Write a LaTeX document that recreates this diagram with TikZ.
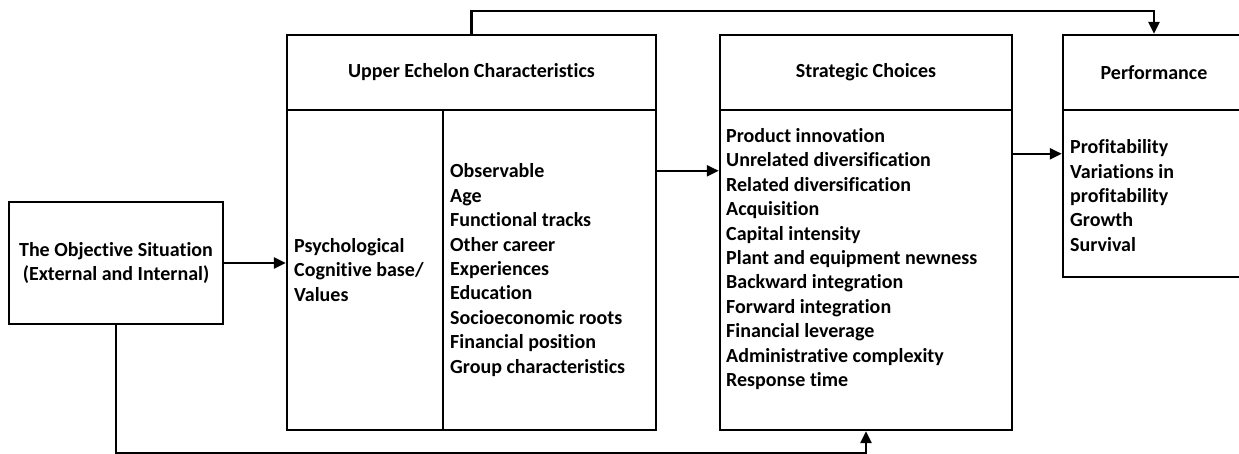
\documentclass[tikz,border=0pt]{standalone}
\usepackage{fontspec}
\setmainfont{Carlito}[Ligatures=CommonOff]
\usetikzlibrary{arrows.meta, positioning, calc}
\newcommand{\boxfont}{\bfseries\fontsize{10}{12.2}\selectfont}
\tikzset{
  box/.style={draw=black, line width=1.2pt, fill=white, inner sep=0pt},
  headbox/.style={box, minimum height=37.5pt, font=\boxfont},
  colbox/.style={box, minimum height=160pt},
  items/.style={inner sep=0pt, align=left, font=\boxfont},
  flow/.style={-{Triangle[length=6pt, width=5.5pt]}, line width=1.2pt, draw=black},
}

\begin{document}
\begin{tikzpicture}[x=0.5pt, y=-0.5pt]
  \useasboundingbox[fill=white] (0,0) rectangle (1239,454);

  % the situation on the left
  \node[box, minimum width=107pt, minimum height=61pt, align=center, font=\boxfont]
    (obj) at (116,263) {The Objective Situation\\(External and Internal)};

  % upper echelon block: header over two columns
  \node[headbox, minimum width=184.5pt] (uehead) at (471.5,72.5) {Upper Echelon Characteristics};
  \node[colbox, minimum width=78pt] (psych) at (365,270) {};
  \node[colbox, minimum width=106.5pt] (demo) at (549.5,270) {};
  \node[items, right=4pt of psych.west] (psychtxt) {Psychological\\Cognitive base/\\Values};
  \node[items, right=4pt of demo.west] (demotxt) {Observable\\Age\\Functional tracks\\Other career\\Experiences\\Education\\Socioeconomic roots\\Financial position\\Group characteristics};

  % strategic choices
  \node[headbox, minimum width=146pt] (schead) at (866,72.5) {Strategic Choices};
  \node[colbox, minimum width=146pt] (scbody) at (866,270) {};
  \node[items, anchor=west] (sctxt) at ([xshift=3.5pt, yshift=5.5pt]scbody.west)
    {Product innovation\\Unrelated diversification\\Related diversification\\Acquisition\\Capital intensity\\Plant and equipment newness\\Backward integration\\Forward integration\\Financial leverage\\Administrative complexity\\Response time};

  % performance
  \node[headbox, minimum width=91pt] (pfhead) at (1154,72.5) {Performance};
  \node[box, minimum width=91pt, minimum height=83.5pt] (pfbody) at (1154,193.5) {};
  \node[items, anchor=west] (pftxt) at ([xshift=4pt, yshift=-1pt]pfbody.west)
    {Profitability\\Variations in\\profitability\\Growth\\Survival};

  % links
  \draw[flow] (obj.east) -- (obj.east -| psych.west);
  \draw[flow] ([yshift=-31pt]demo.north east) -- ([yshift=-31pt]scbody.north west);
  \draw[flow] ([yshift=-22.5pt]scbody.north east) -- ([yshift=-22.5pt]pfbody.north west);
  \draw[flow] (uehead.north) -- ++(0,11.5pt) -| (pfhead.north);
  \draw[flow] (obj.south) -- ++(0,-64pt) -| (scbody.south);
\end{tikzpicture}
\end{document}
